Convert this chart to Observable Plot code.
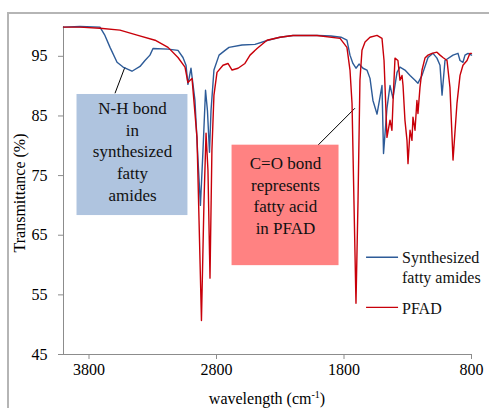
<!DOCTYPE html>
<html><head><meta charset="utf-8">
<script src="https://cdn.jsdelivr.net/npm/d3@7"></script>
<script src="https://cdn.jsdelivr.net/npm/@observablehq/plot@0.6"></script>
<style>
html,body{margin:0;padding:0;background:#fff;overflow:hidden;width:489px;height:408px;}
#frame{position:absolute;left:7px;top:12px;width:520px;height:440px;border:2px solid #b5b5b5;box-sizing:border-box;}
#chart{position:absolute;left:0;top:0;}
#chart svg, #chart svg text{font-family:"Liberation Serif","Times New Roman",serif !important;}
</style></head><body>
<div id="frame"></div><div id="chart"></div>
<script>
// Synthesized fatty amides (blue)
const amideWn = [4000,3871,3714,3675,3635,3580,3533,3463,3400,3361,3322,3298,3180,3102,3063,3039,3024,3000,2969,2945,2926,2906,2886,2871,2855,2843,2820,2780,2733,2702,2600,2498,2396,2302,2200,2004,1902,1824,1777,1753,1730,1706,1682,1651,1620,1596,1573,1541,1518,1502,1490,1463,1439,1416,1384,1361,1322,1282,1243,1220,1188,1141,1102,1071,1047,1031,1008,945,906,890,867,851,827,800];
const amideT  = [99.9,100.0,99.9,98.5,96.5,94.0,93.2,92.5,93.3,94.3,95.2,96.3,96.2,96.0,94.8,93.5,90.3,93.0,87.6,77.6,70.0,79.2,89.3,85.9,78.9,85.9,92.7,95.2,96.0,96.5,96.9,97.0,97.7,98.2,98.5,98.5,98.4,98.2,97.7,95.2,93.8,93.0,93.7,93.0,92.7,91.3,87.6,85.3,88.1,90.1,78.7,86.3,90.1,88.0,92.3,93.2,92.7,91.8,91.0,90.5,91.8,94.8,95.5,94.7,93.5,88.5,94.3,95.2,95.5,94.3,94.0,95.2,95.5,95.2];
// PFAD (red)
const pfadWn = [4000,3871,3714,3557,3416,3282,3180,3102,3047,3024,2992,2953,2937,2918,2898,2882,2867,2851,2836,2820,2796,2749,2710,2678,2631,2577,2537,2482,2404,2302,2200,2012,1831,1777,1753,1737,1722,1706,1690,1675,1659,1635,1596,1541,1502,1486,1478,1463,1439,1424,1416,1400,1377,1361,1345,1337,1322,1306,1298,1282,1267,1259,1243,1228,1220,1204,1188,1165,1141,1110,1071,1047,1024,992,969,945,914,890,867,835,812,800];
const pfadT  = [99.9,99.9,99.7,99.4,98.5,97.7,96.5,94.8,93.2,90.6,91.3,81.4,67.5,50.7,70.8,82.1,75.9,57.8,79.2,88.5,92.3,93.5,93.8,92.7,93.0,93.8,95.2,96.3,97.7,98.2,98.5,98.5,98.0,96.5,92.7,87.1,70.8,53.6,70.8,91.0,96.0,97.4,98.2,98.5,98.0,94.3,89.8,81.4,84.3,82.6,87.1,94.7,94.3,91.0,91.8,90.1,84.3,80.9,77.0,82.6,80.9,84.8,82.6,87.6,85.4,89.8,92.7,94.7,95.2,95.5,95.7,95.2,94.8,94.3,89.8,77.6,87.1,91.8,93.5,94.3,95.5,95.5];

const xTicks = [3800, 2800, 1800, 800];
const yTicks = [45, 55, 65, 75, 85, 95];
const seriesNames = ["Synthesized\nfatty amides", "PFAD"];
const seriesColors = ["#2d5b98", "#c8000a"];

// annotations (data coordinates)
const noteText = ["N-H bond\nin\nsynthesized\nfatty\namides", "C=O bond\nrepresents\nfatty acid\nin PFAD"];
const noteFill = ["#afc4df", "#ff8282"];
const noteBoxX1 = [3894, 2678], noteBoxX2 = [3024, 1839];
const noteBoxY1 = [88.6, 80.1], noteBoxY2 = [68.3, 59.9];
const noteTextX = [3459, 2259], noteTextY = [79.2, 71.8];
const leaderX1 = [3518, 1714], leaderY1 = [93.2, 86.3], leaderX2 = [3596, 2004], leaderY2 = [88.8, 80.1];
// legend position (data coordinates)
const legX1 = 1627, legX2 = 1376, legTextX = 1345;
const legY = [61.3, 52.9], legTextY = [59.7, 52.9];

const amide = amideWn.map((w, i) => ({w, t: amideT[i]}));
const pfad = pfadWn.map((w, i) => ({w, t: pfadT[i]}));
const notes = noteText.map((s, i) => ({s, fill: noteFill[i], x1: noteBoxX1[i], x2: noteBoxX2[i], y1: noteBoxY1[i], y2: noteBoxY2[i], tx: noteTextX[i], ty: noteTextY[i], lx1: leaderX1[i], ly1: leaderY1[i], lx2: leaderX2[i], ly2: leaderY2[i]}));
const legend = seriesNames.map((s, i) => ({s, c: seriesColors[i], y: legY[i], ty: legTextY[i]}));

const font = "Liberation Serif";
const plot = Plot.plot({
  width: 489, height: 408,
  marginLeft: 63, marginRight: 18, marginTop: 26, marginBottom: 54,
  style: {fontFamily: font, fontSize: "16px", color: "#000", background: "transparent"},
  x: {domain: [4000, 800], ticks: xTicks, tickFormat: "d"},
  y: {domain: [45, 100], ticks: yTicks, tickFormat: "d"},
  marks: [
    Plot.ruleY([45], {stroke: "#8c8c8c", strokeWidth: 1}),
    Plot.ruleX([4000], {stroke: "#8c8c8c", strokeWidth: 1}),
    Plot.axisY({ticks: yTicks, tickFormat: "d", tickSize: 5, tickPadding: 11, stroke: "#8c8c8c", fill: "#000", label: null, fontSize: 16, fontFamily: font}),
    Plot.axisX({ticks: xTicks, tickFormat: "d", tickSize: 5, tickPadding: 4, stroke: "#8c8c8c", fill: "#000", label: null, fontSize: 16, fontFamily: font}),
    Plot.link(notes, {x1: "lx1", y1: "ly1", x2: "lx2", y2: "ly2", stroke: "#000", strokeWidth: 1}),
    Plot.rect(notes, {x1: "x1", x2: "x2", y1: "y1", y2: "y2", fill: "fill"}),
    Plot.line(amide, {x: "w", y: "t", stroke: seriesColors[0], strokeWidth: 1.4, curve: "linear"}),
    Plot.line(pfad, {x: "w", y: "t", stroke: seriesColors[1], strokeWidth: 1.4, curve: "linear"}),
    Plot.text(notes, {x: "tx", y: "ty", text: "s", fontSize: 17, fontFamily: font, lineHeight: 1.27, fill: "#111"}),
    Plot.link(legend, {x1: () => legX1, x2: () => legX2, y1: "y", y2: "y", stroke: "c", strokeWidth: 1.4}),
    Plot.text(legend, {x: () => legTextX, y: "ty", text: "s", textAnchor: "start", fontSize: 16, fontFamily: font, lineHeight: 1.2, fill: "#111"})
  ]
});
document.getElementById("chart").appendChild(plot);

const svg = d3.select(plot);
const xs = plot.scale("x").range;
const ys = plot.scale("y").range;
const xl = svg.append("text").attr("x", (xs[0] + xs[1]) / 2).attr("y", 404)
  .attr("text-anchor", "middle").attr("font-family", font).attr("font-size", 16).attr("fill", "#000");
xl.append("tspan").text("wavelength (cm");
xl.append("tspan").text("-1").attr("font-size", 10).attr("dy", "-6");
xl.append("tspan").text(")").attr("dy", "6");
svg.append("text").attr("transform", `translate(25,${(ys[0] + ys[1]) / 2 + 3}) rotate(-90)`)
  .attr("text-anchor", "middle").attr("font-family", font).attr("font-size", 16).attr("fill", "#000")
  .text("Transmittance (%)");
</script>
</body></html>
